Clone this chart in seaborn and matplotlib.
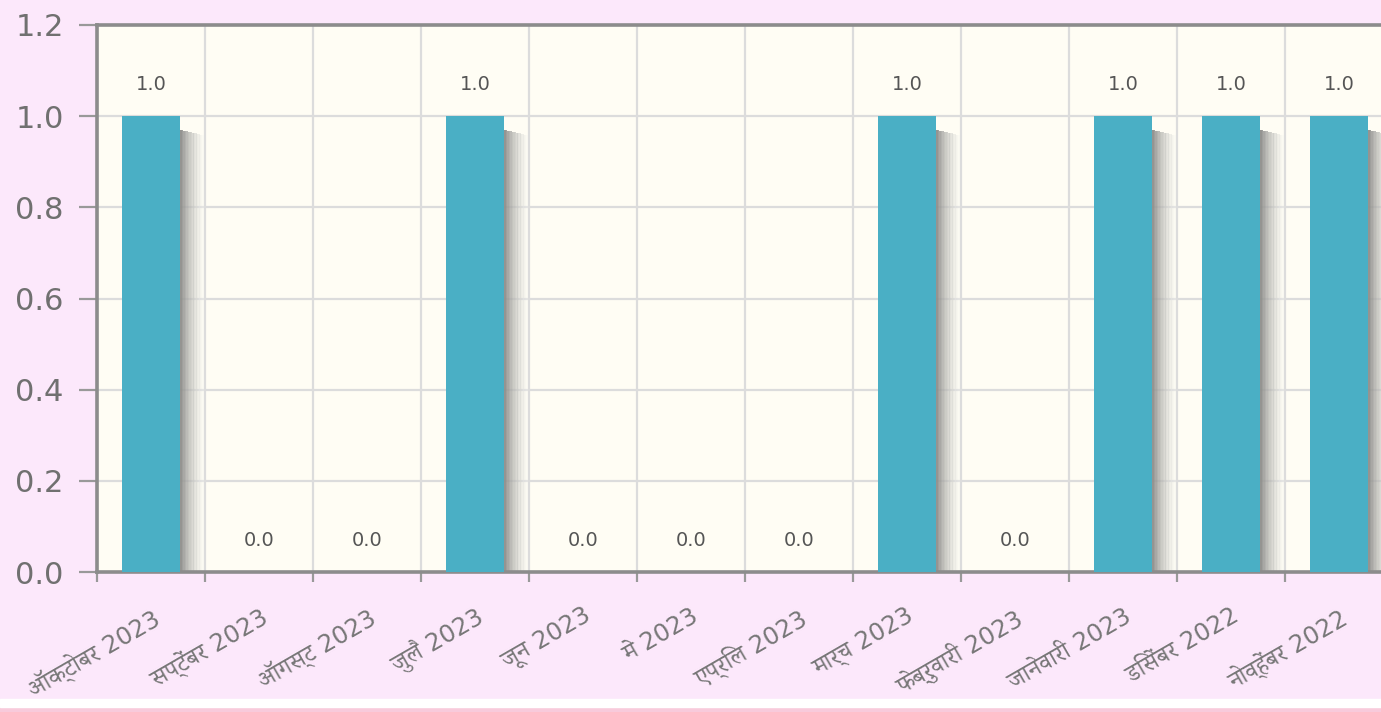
import matplotlib
matplotlib.use("Agg")
import matplotlib.pyplot as plt
import seaborn as sns
import numpy as np
from matplotlib.patches import Rectangle

# data
months = ["ऑक्टोबर 2023", "सप्टेंबर 2023", "ऑगस्ट 2023", "जुलै 2023", "जून 2023",
          "मे 2023", "एप्रिल 2023", "मार्च 2023", "फेब्रुवारी 2023", "जानेवारी 2023",
          "डिसेंबर 2022", "नोव्हेंबर 2022"]
values = [1.0, 0.0, 0.0, 1.0, 0.0, 0.0, 0.0, 1.0, 0.0, 1.0, 1.0, 1.0]
yticks = [0.0, 0.2, 0.4, 0.6, 0.8, 1.0, 1.2]

fig_bg = "#fce8fb"
plot_bg = "#fffdf4"
bar_col = "#4aafc5"
fams = ["DejaVu Sans", "Noto Serif Devanagari", "FreeSerif", "Noto Sans Devanagari"]

sns.set_theme(style="white")
plt.rcParams["font.family"] = fams

fig = plt.figure(figsize=(13.81, 7.12), dpi=100, facecolor=fig_bg)
ax = fig.add_axes([97 / 1381, 1 - 572 / 712, 1296 / 1381, 547 / 712])
ax.set_facecolor(plot_bg)

bw = 0.54
sns.barplot(x=months, y=values, color=bar_col, width=bw, saturation=1,
            linewidth=0, ax=ax, zorder=3)

# soft shadow on the right side of each bar
xs = np.arange(len(values))
vals = np.array(values)
n_strip = 16
dw = 0.22 / n_strip
for k in range(n_strip):
    t = k / (n_strip - 1)
    shade = 0.56 + 0.40 * t
    ax.bar(xs + bw / 2 + k * dw + dw / 2, np.where(vals > 0, vals - 0.03 - 0.012 * t, 0),
           width=dw * 1.05, color=(shade, shade, shade * 0.98),
           alpha=0.95 - 0.6 * t, zorder=2, linewidth=0)

for x, v in zip(xs, values):
    ax.text(x, v + 0.07, f"{v:.1f}", ha="center", va="center",
            fontsize=14, color="#555555", family="DejaVu Sans", zorder=4)

ax.set_xlim(-0.5, len(values) - 0.5)
ax.set_ylim(0, 1.2)
ax.set_yticks(yticks)
ax.set_yticklabels([f"{t:.1f}" for t in yticks])
ax.set_xticks(np.arange(len(values) + 1) - 0.5, minor=True)

ax.grid(True, which="minor", axis="x", color="#dcdcdc", linewidth=1.6, zorder=0)
ax.grid(True, which="major", axis="y", color="#dcdcdc", linewidth=1.6, zorder=0)
ax.set_axisbelow(True)

ax.tick_params(axis="y", which="major", length=13, width=1.6, color="#999999",
               labelsize=22, labelcolor="#707070", pad=11, left=True)
ax.tick_params(axis="x", which="major", length=0, labelsize=17.5,
               labelcolor="#777777", pad=23)
ax.tick_params(axis="x", which="minor", length=7, width=1.6,
               color="#999999", bottom=True)
for lab in ax.get_xticklabels():
    lab.set_rotation(30)
    lab.set_ha("right")
    lab.set_rotation_mode("anchor")
    lab.set_va("top")
    lab.set_family(fams)

for side in ["left", "top", "bottom", "right"]:
    ax.spines[side].set_color("#8c8c8c")
    ax.spines[side].set_linewidth(2.6)
    ax.spines[side].set_visible(True)
ax.set_xlabel("")
ax.set_ylabel("")

# bottom page strips
fig.patches.append(Rectangle((0, 0), 1, 5 / 712, transform=fig.transFigure,
                             color="#f8cadb", zorder=0))
fig.patches.append(Rectangle((0, 5 / 712), 1, 8 / 712, transform=fig.transFigure,
                             color="#ffffff", zorder=0))

fig.savefig("out.png", dpi=100, facecolor=fig_bg)
